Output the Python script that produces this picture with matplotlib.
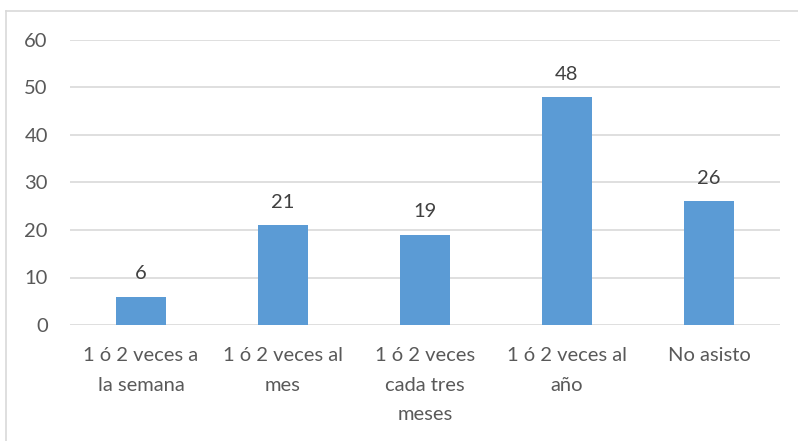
import matplotlib
matplotlib.use('Agg')
from matplotlib import pyplot as plt
from matplotlib.lines import Line2D

categories = ['1 ó 2 veces a\nla semana', '1 ó 2 veces al\nmes', '1 ó 2 veces\ncada tres\nmeses',
              '1 ó 2 veces al\naño', 'No asisto']
values = [6, 21, 19, 48, 26]
yticks = [0, 10, 20, 30, 40, 50, 60]

plt.rcParams['font.family'] = ['Lato', 'DejaVu Sans']

W, H = 798, 441
fig = plt.figure(figsize=(W / 100, H / 100), dpi=100)
# plot area in pixels: x 70..780, y 40..325
ax = fig.add_axes([70 / W, 1 - 325 / H, 710 / W, 285 / H])

x = range(len(values))
bars = ax.bar(x, values, width=0.355, color='#5B9BD5', zorder=3)
for b, v in zip(bars, values):
    ax.text(b.get_x() + b.get_width() / 2, v + 3.0, str(v), ha='center', va='bottom',
            fontsize=14.5, color='#404040')

ax.set_xlim(-0.5, len(values) - 0.5)
ax.set_ylim(0, 60)
ax.set_yticks(yticks)
ax.set_yticklabels([str(t) for t in yticks], fontsize=14.5, color='#595959')
ax.set_xticks(list(x))
ax.set_xticklabels(categories, fontsize=14.5, color='#595959', linespacing=1.9, va='top')
ax.tick_params(length=0, axis='y', pad=16)
ax.tick_params(length=0, axis='x', pad=16)
ax.grid(axis='y', color='#D9D9D9', linewidth=1.2, zorder=0)
for s in ax.spines.values():
    s.set_visible(False)

# chart border (top and left visible)
fig.add_artist(Line2D([6 / W, 6 / W], [0, 1 - 11 / H], transform=fig.transFigure, color='#D9D9D9', lw=1.2))
fig.add_artist(Line2D([6 / W, 1], [1 - 11 / H, 1 - 11 / H], transform=fig.transFigure, color='#D9D9D9', lw=1.2))

plt.savefig('out.png', dpi=100)
